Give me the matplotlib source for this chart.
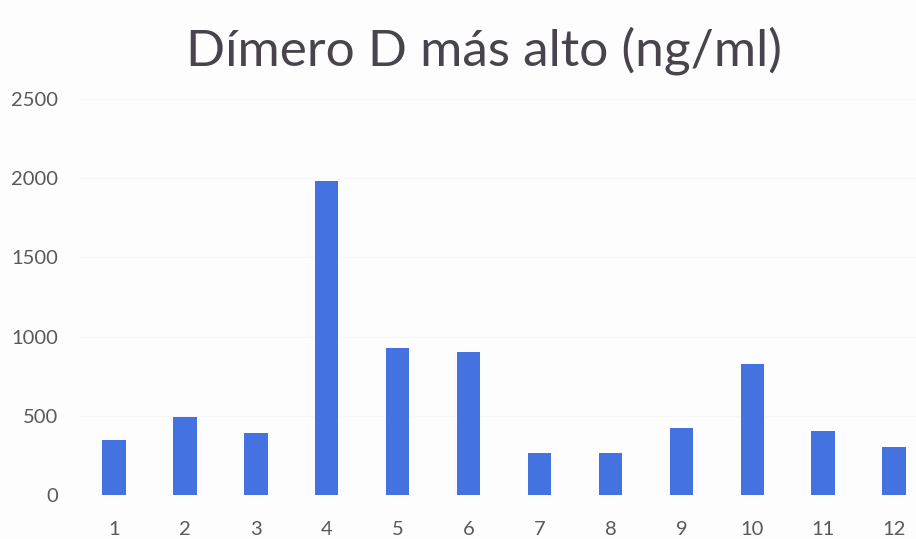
import matplotlib
matplotlib.use("Agg")
import matplotlib.pyplot as plt

# Highest D-dimer value per patient
categories = ["1", "2", "3", "4", "5", "6", "7", "8", "9", "10", "11", "12"]
values = [345, 495, 390, 1980, 925, 905, 265, 265, 420, 830, 405, 305]
y_ticks = [0, 500, 1000, 1500, 2000, 2500]
title = "Dímero D más alto (ng/ml)"

plt.rcParams["font.family"] = ["Lato", "DejaVu Sans"]

fig = plt.figure(figsize=(9.16, 5.39), dpi=100, facecolor="#fdfdfd")
ax = fig.add_axes([0.0858, 0.0816, 0.929, 0.7347])
ax.set_facecolor("#fdfdfd")

x = list(range(1, len(categories) + 1))
ax.bar(x, values, width=0.33, color="#4472e0", zorder=3)

ax.set_xlim(0.5, len(categories) + 0.5)
ax.set_ylim(0, 2500)
ax.set_xticks(x)
ax.set_xticklabels(categories)
ax.set_yticks(y_ticks)
ax.set_yticklabels([str(t) for t in y_ticks])

ax.grid(axis="y", color="#f8f8f8", linewidth=1, zorder=0)
for s in ax.spines.values():
    s.set_visible(False)
ax.tick_params(axis="both", length=0, labelsize=14.5, labelcolor="#595959")
ax.tick_params(axis="x", pad=19)
ax.tick_params(axis="y", pad=15)

fig.text(0.528, 0.8794, title, ha="center", va="baseline", fontsize=37,
         color="#48434c")

fig.savefig("out.png", dpi=100, facecolor=fig.get_facecolor())
